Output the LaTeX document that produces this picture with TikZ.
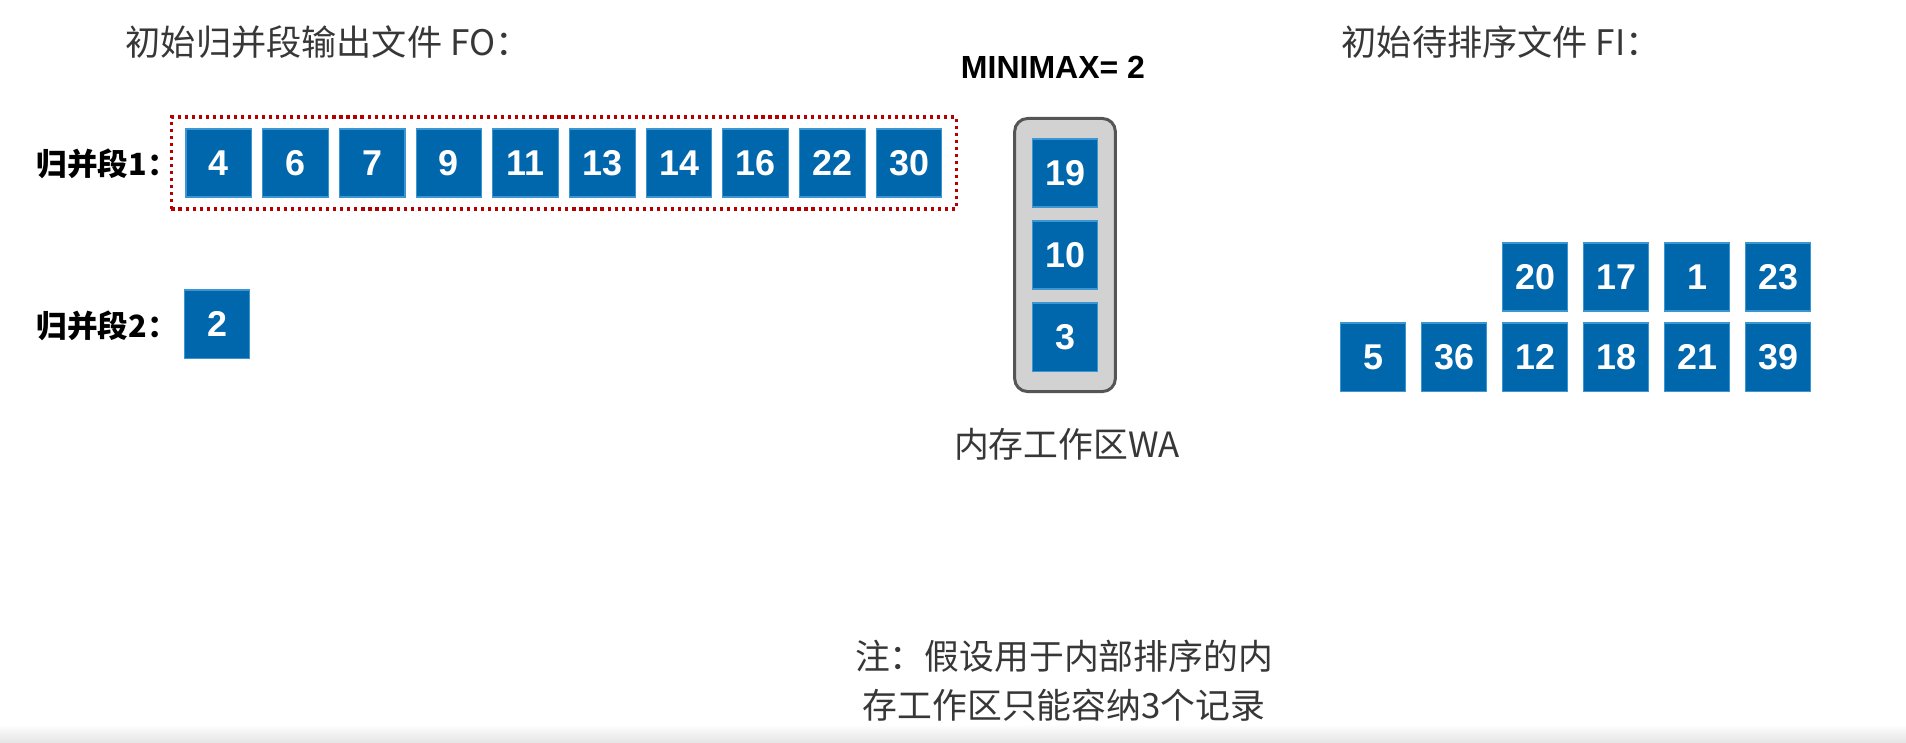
\documentclass[tikz,border=0pt]{standalone}
\usepackage{fontspec}
\usetikzlibrary{fit,backgrounds}
\newfontfamily\cjk{Noto Sans CJK SC}
\newfontfamily\hel{Liberation Sans}
\definecolor{cellblue}{RGB}{0,103,172}
\definecolor{celledge}{RGB}{60,150,210}
\definecolor{dotred}{RGB}{180,0,0}
\definecolor{wafill}{RGB}{210,210,210}
\definecolor{waedge}{RGB}{85,85,85}
\definecolor{txtgray}{RGB}{55,55,55}
\tikzset{
  cell/.style={fill=cellblue, draw=celledge, line width=0.3pt, minimum width=0.656cm, minimum height=0.68cm, inner sep=0pt, text=white, font=\hel\bfseries\fontsize{10.2pt}{12pt}\selectfont},
  title/.style={anchor=west, inner sep=0pt, text=txtgray, font=\cjk\fontsize{10pt}{11pt}\selectfont},
  seglabel/.style={anchor=west, inner sep=0pt, text=black, font=\cjk\bfseries\fontsize{8.7pt}{10pt}\selectfont},
  plain/.style={inner sep=0pt, text=txtgray, font=\cjk\fontsize{9.9pt}{14pt}\selectfont, align=center}
}
\begin{document}
\begin{tikzpicture}[x=0.01cm,y=-0.01cm]
\useasboundingbox (0,0) rectangle (1906,742);
% bottom band
\shade[top color=white, bottom color=black!10] (0,724) rectangle (1906,742);
% titles
\node[title] (tfo) at (125,42) {初始归并段输出文件 FO：};
\node[title] (tfi) at (1341,42) {初始待排序文件 FI：};
\node[inner sep=0pt, font=\hel\bfseries\fontsize{9.1pt}{11pt}\selectfont] (mm) at (1053,67) {MINIMAX= 2};
% segment labels
\node[seglabel] (l1) at (36,164) {归并段1：};
\node[seglabel] (l2) at (36,326) {归并段2：};
% run 1
\foreach \v [count=\i] in {4,6,7,9,11,13,14,16,22,30}
  \node[cell] (a\i) at ({218.8+76.7*(\i-1)},163) {\v};
\node[draw=dotred, line width=0.9pt, dash pattern=on 0.9pt off 1.1pt, fit=(a1)(a10), inner xsep=0.14cm, inner ysep=0.115cm] (run1) {};
% run 2
\node[cell] (b1) at (217,324) {2};
% working area
\node[cell] (w1) at (1065,173) {19};
\node[cell] (w2) at (1065,255) {10};
\node[cell] (w3) at (1065,337) {3};
\begin{scope}[on background layer]
\node[draw=waedge, fill=wafill, line width=0.85pt, rounded corners=0.13cm, fit=(w1)(w3), inner xsep=0.17cm, inner ysep=0.2cm] (wa) {};
\end{scope}
\node[plain] (walabel) at (1067,444) {内存工作区WA};
% input file FI
\foreach \v [count=\i] in {20,17,1,23}
  \node[cell] (u\i) at ({1535+81*(\i-1)},277) {\v};
\foreach \v [count=\i] in {5,36,12,18,21,39}
  \node[cell] (d\i) at ({1373+81*(\i-1)},357) {\v};
% note
\node[plain] (note) at (1064,681) {注：假设用于内部排序的内\\存工作区只能容纳3个记录};
\end{tikzpicture}
\end{document}
